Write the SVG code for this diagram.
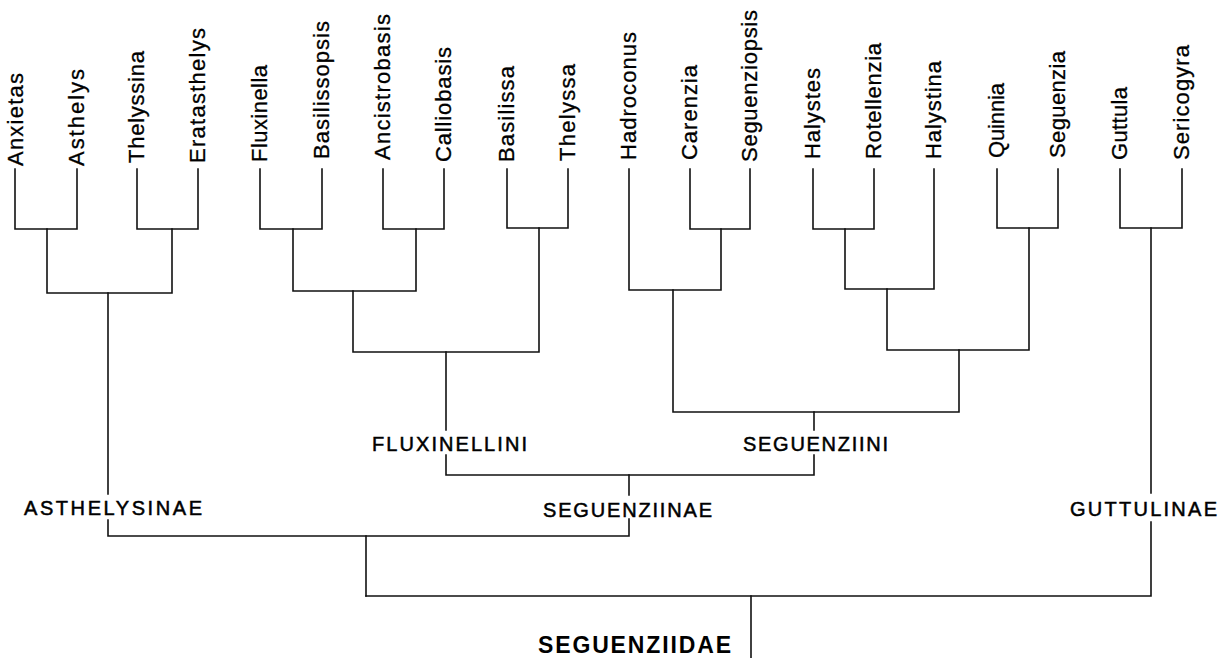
<svg xmlns="http://www.w3.org/2000/svg" width="1222" height="658" viewBox="0 0 1222 658">
<style>
.bg{fill:#fff}
.ln{fill:none;stroke:#111;stroke-width:1.6;stroke-linecap:square}
.leaf{font-family:"Liberation Sans",Arial,sans-serif;font-size:22px;fill:#000;stroke:#000;stroke-width:0.3}
.grp{font-family:"Liberation Sans",Arial,sans-serif;font-size:20px;fill:#000;stroke:#000;stroke-width:0.5}
.fam{font-family:"Liberation Sans",Arial,sans-serif;font-size:23px;font-weight:bold;fill:#000}
</style>
<rect class="bg" x="0" y="0" width="1222" height="658"/>
<g id="connectors">
<path class="ln" d="M15,169 V229 H77 V169"/>
<path class="ln" d="M137,169 V229 H198 V169"/>
<path class="ln" d="M47,229 V293 H172 V229"/>
<path class="ln" d="M108,293 V494"/>
<path class="ln" d="M260,169 V229 H322 V169"/>
<path class="ln" d="M383,169 V229 H444 V169"/>
<path class="ln" d="M293,229 V291 H416 V229"/>
<path class="ln" d="M507,169 V228 H568 V169"/>
<path class="ln" d="M353,291 V352 H539 V228"/>
<path class="ln" d="M446,352 V430"/>
<path class="ln" d="M690,169 V229 H750 V169"/>
<path class="ln" d="M629,169 V290 H721 V229"/>
<path class="ln" d="M813,169 V229 H874 V169"/>
<path class="ln" d="M845,229 V289 H934 V169"/>
<path class="ln" d="M997,169 V228 H1058 V169"/>
<path class="ln" d="M887,289 V350 H1029 V228"/>
<path class="ln" d="M673,290 V412 H959 V350"/>
<path class="ln" d="M814,412 V430"/>
<path class="ln" d="M446,455 V475 H814 V455"/>
<path class="ln" d="M629,475 V495"/>
<path class="ln" d="M108,520 V536 H629 V519"/>
<path class="ln" d="M366,536 V596"/>
<path class="ln" d="M1120,169 V228 H1182 V169"/>
<path class="ln" d="M1151,228 V493"/>
<path class="ln" d="M1151,522 V596 H366"/>
<path class="ln" d="M751,596 V658"/>
</g>
<g id="anxietas"><text class="leaf" transform="translate(23,166) rotate(-90)" textLength="93" lengthAdjust="spacing">Anxietas</text></g>
<g id="asthelys"><text class="leaf" transform="translate(84,166) rotate(-90)" textLength="97" lengthAdjust="spacing">Asthelys</text></g>
<g id="thelyssina"><text class="leaf" transform="translate(144,163) rotate(-90)" textLength="112" lengthAdjust="spacing">Thelyssina</text></g>
<g id="eratasthelys"><text class="leaf" transform="translate(205,163) rotate(-90)" textLength="135" lengthAdjust="spacing">Eratasthelys</text></g>
<g id="fluxinella"><text class="leaf" transform="translate(267,162) rotate(-90)" textLength="97" lengthAdjust="spacing">Fluxinella</text></g>
<g id="basilissopsis"><text class="leaf" transform="translate(329,159) rotate(-90)" textLength="138" lengthAdjust="spacing">Basilissopsis</text></g>
<g id="ancistrobasis"><text class="leaf" transform="translate(390,160) rotate(-90)" textLength="146" lengthAdjust="spacing">Ancistrobasis</text></g>
<g id="calliobasis"><text class="leaf" transform="translate(451,162) rotate(-90)" textLength="115" lengthAdjust="spacing">Calliobasis</text></g>
<g id="basilissa"><text class="leaf" transform="translate(514,162) rotate(-90)" textLength="96" lengthAdjust="spacing">Basilissa</text></g>
<g id="thelyssa"><text class="leaf" transform="translate(575,161) rotate(-90)" textLength="97" lengthAdjust="spacing">Thelyssa</text></g>
<g id="hadroconus"><text class="leaf" transform="translate(636,160) rotate(-90)" textLength="128" lengthAdjust="spacing">Hadroconus</text></g>
<g id="carenzia"><text class="leaf" transform="translate(697,160) rotate(-90)" textLength="95" lengthAdjust="spacing">Carenzia</text></g>
<g id="seguenziopsis"><text class="leaf" transform="translate(757,162) rotate(-90)" textLength="152" lengthAdjust="spacing">Seguenziopsis</text></g>
<g id="halystes"><text class="leaf" transform="translate(820,159) rotate(-90)" textLength="91" lengthAdjust="spacing">Halystes</text></g>
<g id="rotellenzia"><text class="leaf" transform="translate(881,159) rotate(-90)" textLength="116" lengthAdjust="spacing">Rotellenzia</text></g>
<g id="halystina"><text class="leaf" transform="translate(941,159) rotate(-90)" textLength="98" lengthAdjust="spacing">Halystina</text></g>
<g id="quinnia"><text class="leaf" transform="translate(1004,158) rotate(-90)" textLength="75" lengthAdjust="spacing">Quinnia</text></g>
<g id="seguenzia"><text class="leaf" transform="translate(1065,158) rotate(-90)" textLength="107" lengthAdjust="spacing">Seguenzia</text></g>
<g id="guttula"><text class="leaf" transform="translate(1127,160) rotate(-90)" textLength="73" lengthAdjust="spacing">Guttula</text></g>
<g id="sericogyra"><text class="leaf" transform="translate(1189,160) rotate(-90)" textLength="115" lengthAdjust="spacing">Sericogyra</text></g>
<g id="fluxinellini"><text class="grp" x="372" y="451" textLength="155" lengthAdjust="spacing">FLUXINELLINI</text></g>
<g id="seguenziini"><text class="grp" x="743" y="451" textLength="145" lengthAdjust="spacing">SEGUENZIINI</text></g>
<g id="asthelysinae"><text class="grp" x="24" y="515" textLength="178" lengthAdjust="spacing">ASTHELYSINAE</text></g>
<g id="seguenziinae"><text class="grp" x="543" y="517" textLength="169" lengthAdjust="spacing">SEGUENZIINAE</text></g>
<g id="guttulinae"><text class="grp" x="1070" y="516" textLength="147" lengthAdjust="spacing">GUTTULINAE</text></g>
<g id="seguenziidae"><text class="fam" x="538" y="653" textLength="193" lengthAdjust="spacing">SEGUENZIIDAE</text></g>
</svg>
